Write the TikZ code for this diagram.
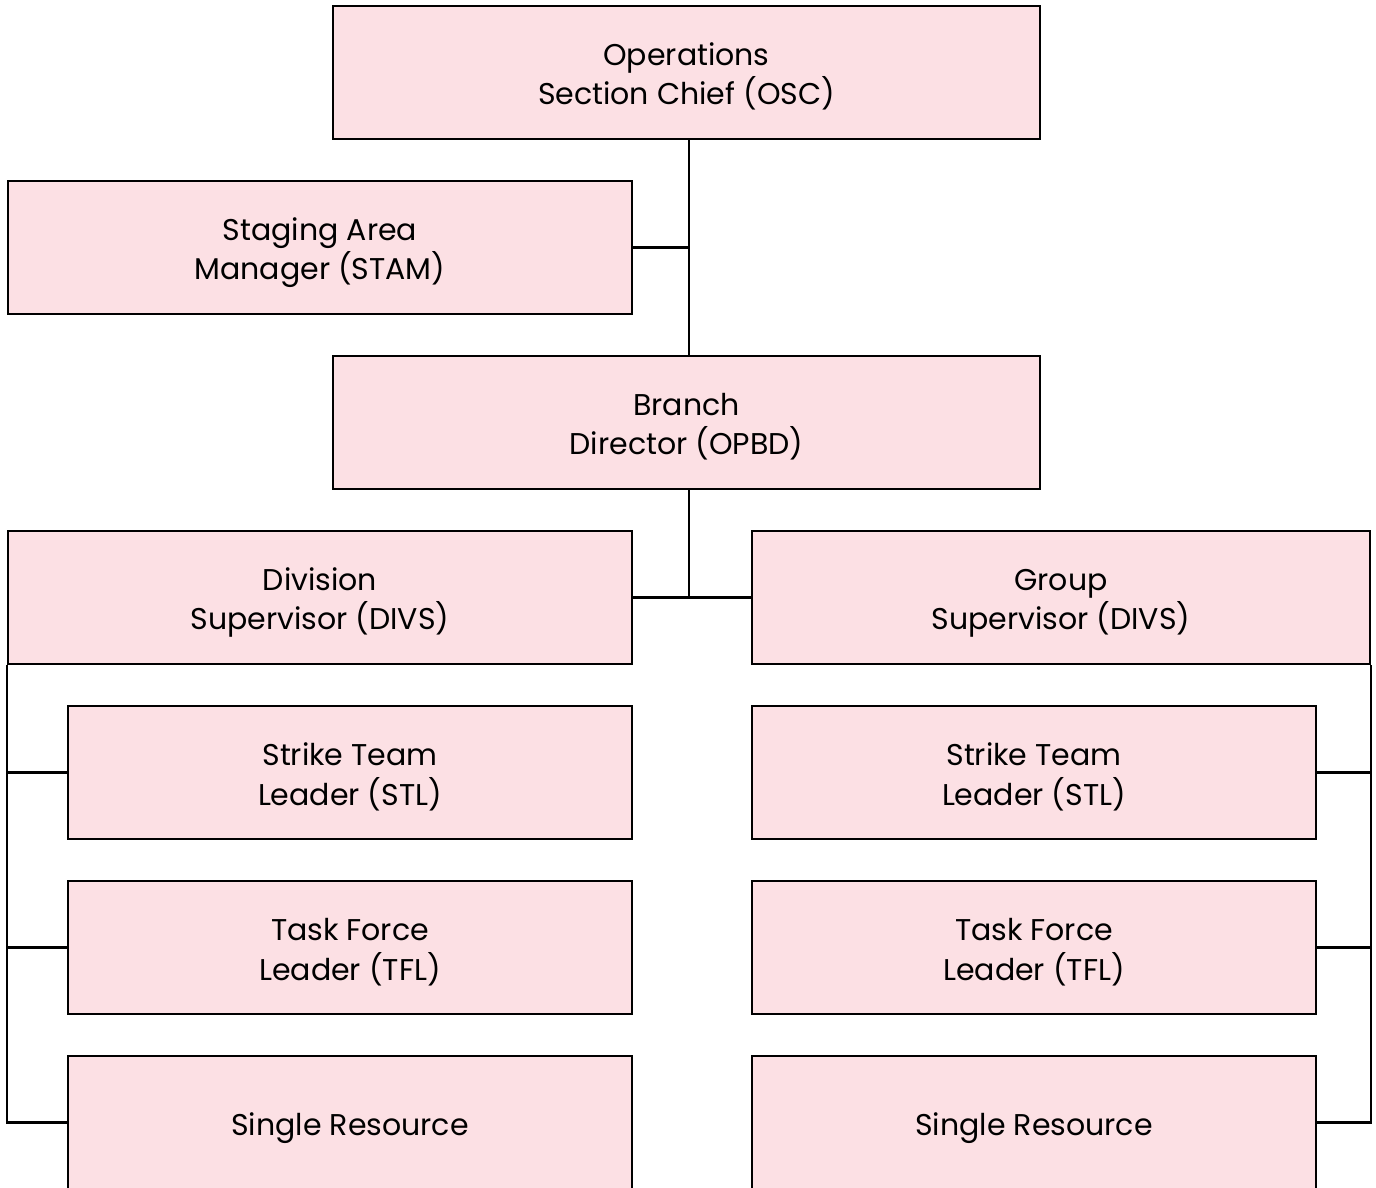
\documentclass[tikz,border=0pt]{standalone}
\usepackage{fontspec}
\setmainfont{Poppins}
\definecolor{boxfill}{HTML}{FCE0E4}
% centred lines of a role title, set a little below the box centre
\newcommand\rolelines[1]{\raisebox{-5pt}[\height][\depth]{\begin{tabular}{@{}c@{}}#1\end{tabular}}}
\tikzset{
  role/.style={draw=black, line width=2.2pt, fill=boxfill, inner sep=0pt,
    minimum height=133pt,
    font=\fontsize{30}{38.5}\selectfont},
  wide/.style={role, minimum width=707pt},
  mid/.style={role, minimum width=624pt},
  unit/.style={role, minimum width=564pt},
  link/.style={draw=black, line width=2.2pt}
}
\begin{document}
\begin{tikzpicture}[x=1pt,y=-1pt]
  \useasboundingbox (0,0) rectangle (1376,1187);
  \clip (0,0) rectangle (1376,1187);
  % command levels
  \node[wide] (osc)  at (686.5,72.5)  {\rolelines{Operations\\Section Chief (OSC)}};
  \node[mid]  (stam) at (320,247.5)   {\rolelines{Staging Area\\Manager (STAM)}};
  \node[wide] (opbd) at (686.5,422.5) {\rolelines{Branch\\Director (OPBD)}};
  \node[mid]  (divs) at (320,597.5)   {\rolelines{Division\\Supervisor (DIVS)}};
  \node[role, minimum width=618pt] (grp) at (1061,597.5) {\rolelines{Group\\Supervisor (DIVS)}};
  % division resources
  \node[unit] (stlA) at (350,772.5)  {\rolelines{Strike Team\\Leader (STL)}};
  \node[unit] (tflA) at (350,947.5)  {\rolelines{Task Force\\Leader (TFL)}};
  \node[unit] (srA)  at (350,1122.5) {\rolelines{Single Resource}};
  % group resources
  \node[unit] (stlB) at (1034,772.5)  {\rolelines{Strike Team\\Leader (STL)}};
  \node[unit] (tflB) at (1034,947.5)  {\rolelines{Task Force\\Leader (TFL)}};
  \node[unit] (srB)  at (1034,1122.5) {\rolelines{Single Resource}};
  % vertical spine of the command chain
  \coordinate (spine) at (689,0);
  % chain of command
  \draw[link] (osc.south -| spine) -- (opbd.north -| spine);
  \draw[link] (stam.east) -- (stam.east -| spine);
  \draw[link] (opbd.south -| spine) -- (divs.east -| spine);
  \draw[link] (divs.east) -- (grp.west);
  % left bus
  \draw[link] (divs.south west) |- (srA.west);
  \draw[link] (stlA.west) -- (stlA.west -| divs.south west);
  \draw[link] (tflA.west) -- (tflA.west -| divs.south west);
  % right bus
  \draw[link] (grp.south east) |- (srB.east);
  \draw[link] (stlB.east) -- (stlB.east -| grp.south east);
  \draw[link] (tflB.east) -- (tflB.east -| grp.south east);
\end{tikzpicture}
\end{document}
